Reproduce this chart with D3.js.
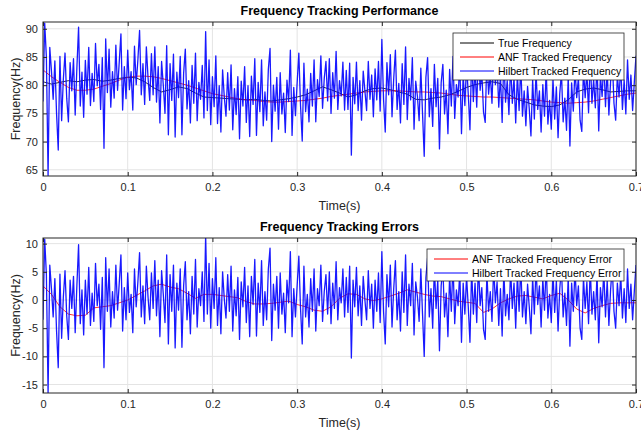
<!DOCTYPE html>
<html>
<head>
<meta charset="utf-8">
<script src="https://cdn.jsdelivr.net/npm/d3@7"></script>
<style>
  body { margin: 0; background: #fff; }
  svg { display: block; font-family: 'Liberation Sans', Arial, sans-serif; }
</style>
</head>
<body>
<div id="chart"></div>
<script>
// sample spacing of the smooth curves and of the hilbert estimate (seconds)
const coarseStep = 0.01;
const fineStep = 0.002;

const xTicks = [0, 0.1, 0.2, 0.3, 0.4, 0.5, 0.6, 0.7];
const topYTicks = [65, 70, 75, 80, 85, 90];
const bottomYTicks = [-15, -10, -5, 0, 5, 10];

const topLegend = ['True Frequency', 'ANF Tracked Frequency', 'Hilbert Tracked Frequency'];
const bottomLegend = ['ANF Tracked Frequency Error', 'Hilbert Tracked Frequency Error'];

const trueFreq = [
  80.6, 80.2, 80.5, 80.8, 80.6, 80.9, 81.0, 80.7, 80.9, 81.2,
  81.4, 81.3, 80.6, 79.6, 78.8, 79.2, 79.7, 79.4, 78.6, 77.9,
  77.8, 77.7, 77.6, 77.5, 77.4, 77.5, 77.3, 77.2, 77.4, 77.6,
  77.9, 78.3, 79.0, 79.7, 79.2, 78.6, 77.9, 78.3, 79.0, 79.4,
  79.5, 79.2, 78.8, 78.4, 77.5, 77.4, 77.7, 77.9, 78.3, 78.9,
  79.6, 80.1, 80.4, 80.6, 80.3, 78.3, 77.5, 77.0, 76.5, 76.3,
  76.2, 76.5, 77.4, 78.8, 79.3, 79.5, 79.2, 78.8, 78.9, 79.0,
  79.0
];

const anfFreq = [
  82.7, 81.5, 80.5, 79.6, 79.1, 79.1, 79.3, 79.8, 80.3, 80.9,
  81.4, 81.6, 81.6, 81.5, 81.2, 80.8, 80.4, 80.0, 79.5, 79.0,
  78.5, 78.2, 77.9, 77.6, 77.4, 77.3, 77.1, 77.0, 77.0, 77.1,
  77.2, 77.3, 77.5, 77.7, 78.0, 78.2, 78.4, 78.6, 78.8, 78.9,
  79.0, 79.0, 79.0, 78.9, 78.8, 78.8, 78.7, 78.6, 78.4, 78.2,
  78.1, 78.0, 77.9, 77.9, 77.8, 77.7, 77.6, 77.5, 77.4, 77.2,
  77.0, 76.9, 76.8, 76.9, 77.0, 77.2, 77.5, 77.8, 78.1, 78.4,
  78.6
];

const anfError = [
  2.5, 1.0, -1.2, -2.5, -2.8, -2.7, -1.4, -1.2, -1.0, -0.5,
  0.0, 0.8, 1.6, 2.5, 2.8, 2.3, 2.0, 1.2, 0.3, 1.0,
  1.0, 0.8, 0.6, 0.4, -0.3, -0.7, -0.7, -0.6, -0.4, -0.2,
  -0.8, -1.2, -1.8, -2.0, -1.2, 0.3, 1.1, 1.0, 0.2, -0.1,
  0.2, 0.7, 1.2, 1.8, 1.4, 1.0, 0.7, 0.6, 0.2, -0.2,
  -0.4, -0.6, -2.2, -1.6, -0.5, 0.2, 0.7, 0.8, 0.5, 0.2,
  0.8, 1.2, 0.0, -1.6, -2.3, -1.5, -1.0, -0.6, -0.5, -0.5,
  -0.5
];

const hilbertFreq = [
  77.1, 91.0, 85.0, 64.0, 86.7, 82.5, 77.5, 84.3, 75.0, 68.5, 85.1, 73.7, 81.0, 85.7, 77.7, 73.5, 84.0, 79.0, 84.7, 74.7, 83.1, 90.3, 76.3, 82.3, 74.3,
  84.4, 78.4, 86.7, 76.4, 82.1, 77.1, 87.4, 79.9, 83.7, 75.7, 84.9, 68.8, 88.2, 78.7, 86.4, 76.1, 82.4, 77.7, 87.1, 79.1, 84.1, 89.1, 75.6, 83.3, 77.6,
  86.2, 79.2, 82.4, 75.6, 86.9, 80.1, 84.5, 89.7, 78.3, 83.8, 76.6, 86.8, 81.3, 77.3, 85.6, 78.3, 86.8, 77.0, 83.3, 73.3, 84.2, 80.0, 75.0, 87.0, 71.2,
  83.8, 77.3, 85.5, 70.8, 82.3, 77.8, 85.1, 71.2, 82.1, 86.4, 75.8, 80.8, 73.3, 83.5, 76.8, 85.7, 73.7, 80.5, 77.5, 83.5, 74.2, 89.5, 75.5, 84.5, 73.0,
  81.5, 76.2, 85.2, 73.2, 79.9, 71.7, 82.7, 77.9, 74.5, 82.2, 75.6, 83.6, 72.1, 79.4, 74.8, 81.5, 70.5, 80.7, 76.3, 83.3, 73.4, 79.9, 70.9, 81.6, 76.6,
  84.7, 71.1, 80.5, 75.3, 84.5, 72.8, 78.8, 73.8, 82.8, 86.5, 70.0, 80.0, 75.4, 81.4, 72.2, 82.2, 74.9, 78.6, 71.6, 80.9, 77.1, 86.2, 71.1, 79.6, 74.6,
  80.4, 85.7, 76.4, 70.1, 83.9, 75.3, 79.3, 73.5, 82.1, 76.3, 84.5, 73.5, 81.0, 78.0, 85.2, 75.9, 81.2, 84.2, 77.2, 84.7, 75.0, 82.2, 77.7, 86.0, 75.7,
  80.8, 78.1, 84.1, 75.6, 82.6, 75.7, 83.9, 67.6, 81.4, 76.7, 84.1, 75.5, 80.8, 73.8, 82.5, 79.0, 75.5, 84.2, 77.5, 81.8, 74.4, 82.9, 77.4, 84.2, 75.4,
  88.1, 77.5, 71.7, 84.0, 78.3, 85.4, 74.4, 81.2, 86.2, 75.7, 80.3, 73.3, 83.8, 76.6, 86.8, 73.9, 81.2, 77.4, 84.9, 72.2, 80.7, 78.0, 73.7, 83.0, 75.0,
  67.4, 81.4, 84.9, 74.4, 79.4, 72.7, 83.7, 76.2, 81.2, 68.7, 80.4, 83.7, 74.9, 79.1, 71.4, 82.8, 76.3, 85.1, 74.1, 80.1, 77.9, 84.1, 71.4, 81.9, 76.4,
  83.8, 78.4, 72.1, 85.1, 77.1, 83.1, 76.1, 86.6, 79.1, 82.3, 75.2, 73.4, 85.2, 78.4, 81.9, 76.8, 86.6, 80.1, 83.8, 76.1, 81.8, 73.4, 85.0, 77.0, 80.8,
  74.8, 83.8, 76.8, 81.3, 73.3, 82.0, 75.5, 83.7, 74.5, 79.0, 72.8, 79.8, 75.8, 71.0, 81.0, 74.0, 82.3, 75.7, 79.0, 71.7, 80.1, 74.5, 82.8, 73.1, 77.3,
  72.2, 81.2, 74.0, 79.7, 70.7, 78.5, 82.3, 73.5, 77.7, 72.0, 81.6, 69.2, 80.4, 75.4, 82.9, 77.8, 81.3, 73.8, 71.8, 82.8, 77.8, 82.5, 75.1, 85.1, 76.8,
  81.0, 76.0, 84.3, 71.9, 81.7, 78.0, 84.4, 76.2, 82.7, 74.7, 80.6, 84.8, 76.8, 73.8, 81.8, 77.9, 83.4, 75.7, 80.9, 74.9, 84.5, 77.5, 81.8, 75.5, 80.5,
  85.2
];

const hilbertError = [
  -3.5, 10.8, 4.5, -16.5, 6.2, 2.0, -3.0, 3.8, -5.5, -12.0, 4.6, -6.8, 0.5, 5.2, -2.8, -7.0, 3.5, -1.5, 4.2, -5.8, 2.6, 9.8, -4.2, 1.8, -6.2,
  3.5, -2.5, 5.8, -4.5, 1.2, -3.8, 6.5, -1.0, 2.8, -5.2, 4.0, -12.0, 7.5, -2.0, 5.5, -4.8, 1.5, -3.2, 6.2, -1.8, 3.0, 8.0, -5.5, 2.2, -3.5,
  4.8, -2.2, 1.0, -5.8, 5.5, -1.2, 3.2, 8.4, -3.0, 2.5, -4.2, 6.0, 0.5, -3.5, 4.8, -1.5, 7.0, -2.8, 3.5, -6.5, 5.2, 1.0, -4.0, 8.0, -7.8,
  4.5, -2.0, 6.2, -8.5, 3.0, -1.8, 5.5, -8.4, 2.5, 6.8, -3.5, 1.5, -6.0, 4.2, -2.5, 7.2, -4.8, 2.0, -1.0, 5.0, -3.8, 11.5, -2.5, 6.5, -5.0,
  3.8, -1.5, 7.5, -4.5, 2.2, -6.0, 5.0, 0.2, -3.2, 4.5, -2.0, 6.0, -5.5, 1.8, -2.8, 4.0, -7.0, 3.2, -1.2, 5.8, -4.0, 2.5, -6.5, 4.2, -0.8,
  7.2, -6.4, 3.0, -2.2, 7.0, -4.5, 1.5, -3.5, 5.5, 9.2, -7.2, 2.8, -1.8, 4.2, -5.0, 4.8, -2.5, 1.2, -5.8, 3.5, -0.5, 8.6, -6.5, 2.0, -3.0,
  2.5, 7.8, -1.5, -7.8, 6.0, -3.0, 1.0, -4.8, 3.8, -2.0, 5.5, -5.5, 2.0, -1.0, 6.2, -3.8, 1.5, 4.5, -2.5, 5.0, -4.2, 3.0, -1.5, 6.8, -3.5,
  2.2, -0.5, 5.5, -3.0, 4.0, -2.2, 6.0, -10.3, 3.5, -1.2, 5.8, -2.8, 2.5, -4.5, 4.2, 0.0, -3.5, 5.2, -1.5, 2.8, -5.0, 3.5, -2.0, 4.8, -4.0,
  8.6, -2.0, -7.8, 4.5, -1.2, 6.2, -4.8, 2.0, 7.0, -3.5, 1.5, -5.5, 5.0, -2.2, 8.0, -4.5, 2.8, -1.0, 6.5, -6.2, 3.2, 0.5, -3.8, 5.5, -2.5,
  -10.0, 4.0, 7.5, -3.0, 2.0, -5.0, 6.0, -1.5, 3.5, -9.0, 2.5, 5.8, -3.0, 1.2, -6.5, 4.5, -2.0, 6.8, -4.2, 1.8, -1.0, 5.2, -7.5, 3.0, -2.5,
  4.2, -1.2, -7.5, 5.5, -2.5, 3.0, -4.0, 6.5, -1.0, 2.2, -5.2, -7.0, 4.8, -2.0, 1.5, -3.8, 6.0, -0.5, 3.2, -4.5, 2.0, -6.4, 5.2, -2.8, 1.0,
  -3.5, 5.5, -1.5, 3.0, -5.0, 4.5, -2.0, 6.2, -3.0, 1.5, -4.2, 2.8, -1.2, -6.0, 4.0, -2.5, 5.8, -0.8, 2.5, -4.8, 3.8, -1.8, 6.5, -3.2, 1.0,
  -4.0, 5.0, -2.2, 3.5, -5.5, 2.0, 5.8, -3.0, 1.2, -4.5, 4.2, -8.2, 3.0, -2.0, 5.5, -1.0, 2.5, -5.0, -7.0, 4.0, -1.5, 3.2, -4.2, 5.8, -2.5,
  1.5, -3.5, 4.8, -7.6, 2.2, -1.2, 5.2, -3.0, 3.5, -4.5, 1.8, 6.0, -2.0, -5.0, 3.0, -1.0, 4.5, -3.2, 2.0, -4.0, 5.5, -1.5, 2.8, -3.5, 1.5,
  6.2
];

let width = 641;
let height = 435;
let axisColor = '#262626';

let svg = d3.select('#chart').append('svg')
  .attr('width', width)
  .attr('height', height);

svg.append('rect').attr('width', width).attr('height', height).attr('fill', '#fff');

function drawPanel(cfg) {
  let x = d3.scaleLinear().domain([0, 0.7]).range([43, 636]);
  let y = d3.scaleLinear().domain(cfg.yDomain).range([cfg.bottom, cfg.top]);
  let g = svg.append('g');

  // grid
  g.selectAll('.vgrid').data(xTicks).enter().append('line')
    .attr('x1', d => x(d)).attr('x2', d => x(d))
    .attr('y1', cfg.top).attr('y2', cfg.bottom)
    .attr('stroke', '#e4e4e4').attr('stroke-width', 1);
  g.selectAll('.hgrid').data(cfg.yTicks).enter().append('line')
    .attr('x1', 43).attr('x2', 636)
    .attr('y1', d => y(d)).attr('y2', d => y(d))
    .attr('stroke', '#e4e4e4').attr('stroke-width', 1);

  // clip the traces to the axes box
  let clipId = 'clip-' + cfg.name;
  svg.append('clipPath').attr('id', clipId)
    .append('rect')
    .attr('x', 43).attr('y', cfg.top)
    .attr('width', 593).attr('height', cfg.bottom - cfg.top);

  let traces = g.append('g').attr('clip-path', `url(#${clipId})`);
  cfg.series.forEach(s => {
    let line = d3.line()
      .x((d, i) => x(i * s.step))
      .y(d => y(d));
    traces.append('path')
      .datum(s.values)
      .attr('d', line)
      .attr('fill', 'none')
      .attr('stroke', s.color)
      .attr('stroke-width', s.width)
      .attr('stroke-opacity', s.opacity || 1)
      .attr('stroke-linejoin', 'round');
  });

  // axes, ticks point inwards like matlab
  let fmt = d => String(d);
  let bottomAxis = g.append('g')
    .attr('transform', `translate(0,${cfg.bottom})`)
    .call(d3.axisBottom(x).tickValues(xTicks).tickFormat(fmt).tickSizeInner(-4).tickSizeOuter(0).tickPadding(7));
  let leftAxis = g.append('g')
    .attr('transform', 'translate(43,0)')
    .call(d3.axisLeft(y).tickValues(cfg.yTicks).tickFormat(fmt).tickSizeInner(-4).tickSizeOuter(0).tickPadding(5));
  let topAxis = g.append('g')
    .attr('transform', `translate(0,${cfg.top})`)
    .call(d3.axisTop(x).tickValues(xTicks).tickFormat('').tickSizeInner(-4).tickSizeOuter(0));
  let rightAxis = g.append('g')
    .attr('transform', 'translate(636,0)')
    .call(d3.axisRight(y).tickValues(cfg.yTicks).tickFormat('').tickSizeInner(-4).tickSizeOuter(0));

  [bottomAxis, leftAxis, topAxis, rightAxis].forEach(a => {
    a.select('.domain').remove();
    a.selectAll('line').attr('stroke', axisColor);
    a.selectAll('text')
      .attr('fill', axisColor)
      .style('font-size', '11px')
      .style('font-family', "'Liberation Sans', Arial, sans-serif");
  });

  g.append('rect')
    .attr('x', 43).attr('y', cfg.top)
    .attr('width', 593).attr('height', cfg.bottom - cfg.top)
    .attr('fill', 'none')
    .attr('stroke', axisColor)
    .attr('stroke-width', 1);

  // title and labels
  g.append('text')
    .attr('x', 339.5).attr('y', cfg.top - 7)
    .attr('text-anchor', 'middle')
    .style('font-size', '12.5px').style('font-weight', 'bold')
    .attr('fill', '#000')
    .text(cfg.title);

  g.append('text')
    .attr('x', 339.5).attr('y', cfg.bottom + 34)
    .attr('text-anchor', 'middle')
    .style('font-size', '12.5px')
    .attr('fill', axisColor)
    .text('Time(s)');

  g.append('text')
    .attr('transform', `translate(20,${(cfg.top + cfg.bottom) / 2}) rotate(-90)`)
    .attr('text-anchor', 'middle')
    .style('font-size', '12.5px')
    .attr('fill', axisColor)
    .text('Frequency(Hz)');

  // legend
  let lg = cfg.legend;
  let legend = g.append('g');
  legend.append('rect')
    .attr('x', lg.x).attr('y', lg.y)
    .attr('width', lg.w).attr('height', lg.h)
    .attr('fill', '#fff')
    .attr('stroke', axisColor).attr('stroke-width', 0.8);
  lg.labels.forEach((label, i) => {
    let cy = lg.y + 10 + i * 14;
    legend.append('line')
      .attr('x1', lg.x + 7).attr('x2', lg.x + 41)
      .attr('y1', cy).attr('y2', cy)
      .attr('stroke', lg.colors[i]).attr('stroke-width', 1);
    legend.append('text')
      .attr('x', lg.x + 45).attr('y', cy + 3.5)
      .style('font-size', '10.5px')
      .attr('fill', '#000')
      .text(label);
  });
}

drawPanel({
  name: 'top',
  top: 22,
  bottom: 176,
  yDomain: [63.9, 91.2],
  yTicks: topYTicks,
  title: 'Frequency Tracking Performance',
  series: [
    { values: trueFreq, step: coarseStep, color: '#000', width: 0.8 },
    { values: anfFreq, step: coarseStep, color: '#ff0000', width: 0.8 },
    { values: hilbertFreq, step: fineStep, color: '#0000ff', width: 1.3, opacity: 0.9 }
  ],
  legend: { x: 453, y: 33, w: 171, h: 47, labels: topLegend, colors: ['#000', '#ff0000', '#0000ff'] }
});

drawPanel({
  name: 'bottom',
  top: 238,
  bottom: 393,
  yDomain: [-16.5, 11],
  yTicks: bottomYTicks,
  title: 'Frequency Tracking Errors',
  series: [
    { values: anfError, step: coarseStep, color: '#ff0000', width: 0.8 },
    { values: hilbertError, step: fineStep, color: '#0000ff', width: 1.3, opacity: 0.9 }
  ],
  legend: { x: 427, y: 249, w: 197, h: 32, labels: bottomLegend, colors: ['#ff0000', '#0000ff'] }
});
</script>
</body>
</html>
